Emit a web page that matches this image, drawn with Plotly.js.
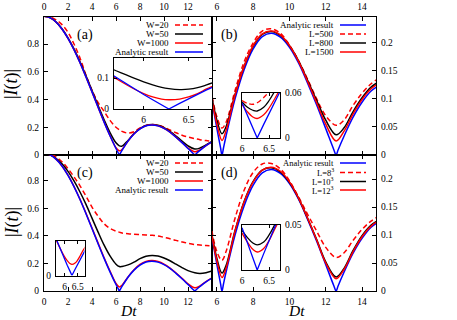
<!DOCTYPE html>
<html>
<head>
<meta charset="utf-8">
<script src="https://cdn.plot.ly/plotly-3.0.1.min.js"></script>
<style>
  html, body { margin: 0; padding: 0; background: #fff; }
  #chart { width: 457px; height: 320px; }
</style>
</head>
<body>
<div id="chart"></div>
<script>
// time grids
const tMain = [0,0.5,1,1.5,2,2.5,3,3.5,4,4.5,5,5.5,6,6.28,6.5,7,7.5,8,8.5,9,9.5,10,10.5,11,11.5,12,12.57,13,13.5,14];
const tZoom = [5.5,6,6.28,6.5,7,7.5,8,8.5,9,9.5,10,10.5,11,11.5,12,12.57,13,13.5,14,14.5,15];
const tExact = [0,0.5,1,1.5,2,2.5,3,3.5,4,4.5,5,5.5,6,6.2,6.28,6.36,6.5,7,7.5,8,8.5,9,9.5,10,10.5,11,11.5,12,12.45,12.57,12.68,13,13.5,14,14.5,15];
const tInsetA = [5.6,5.7,5.8,5.9,6,6.1,6.2,6.28,6.4,6.5,6.6,6.7,6.8];
const tInsetB = [6,6.1,6.2,6.28,6.4,6.5,6.6,6.7];

// analytic result
const exact = [1,0.990,0.959,0.909,0.841,0.759,0.665,0.562,0.455,0.346,0.239,0.139,0.047,0.013,0,0.012,0.033,0.100,0.152,0.189,0.211,0.217,0.210,0.192,0.164,0.128,0.089,0.047,0.009,0,0.009,0.033,0.067,0.094,0.114,0.125];
const exactInsetA = [0.1196,0.1009,0.0825,0.0645,0.047,0.030,0.0134,0,0.0182,0.0333,0.0478,0.0618,0.0751];
const exactInsetB = [0.047,0.030,0.0134,0,0.0182,0.0333,0.0478,0.0618];

// panel (a)
const aW20 = [1,0.995,0.975,0.94,0.885,0.8,0.7,0.575,0.465,0.38,0.315,0.25,0.2,0.182,0.17,0.158,0.168,0.195,0.213,0.219,0.215,0.2,0.18,0.16,0.143,0.13,0.118,0.11,0.104,0.1];
const aW50 = [1,0.99,0.96,0.91,0.845,0.765,0.672,0.571,0.465,0.358,0.256,0.162,0.088,0.066,0.064,0.105,0.155,0.191,0.213,0.22,0.214,0.197,0.17,0.137,0.1,0.066,0.043,0.05,0.073,0.098];
const aW1000 = [1,0.99,0.959,0.909,0.841,0.759,0.665,0.562,0.455,0.346,0.24,0.14,0.052,0.03,0.04,0.1,0.153,0.19,0.212,0.218,0.211,0.193,0.165,0.129,0.09,0.05,0.024,0.037,0.068,0.095];
const aW50Inset = [0.135,0.123,0.111,0.099,0.088,0.078,0.07,0.066,0.063,0.064,0.069,0.078,0.088];
const aW1000Inset = [0.115,0.097,0.08,0.064,0.05,0.039,0.032,0.03,0.032,0.039,0.05,0.065,0.078];

// panel (b)
const bL500 = [0.146,0.068,0.048,0.058,0.115,0.166,0.2,0.221,0.225,0.217,0.196,0.168,0.135,0.1,0.07,0.053,0.062,0.088,0.11,0.127,0.138];
const bL800 = [0.142,0.062,0.038,0.05,0.108,0.158,0.194,0.215,0.22,0.213,0.195,0.168,0.133,0.097,0.062,0.036,0.048,0.077,0.102,0.121,0.132];
const bL1500 = [0.14,0.055,0.026,0.043,0.107,0.158,0.195,0.216,0.221,0.214,0.195,0.167,0.131,0.093,0.055,0.025,0.042,0.073,0.099,0.118,0.129];
const bL500Inset = [0.05,0.046,0.045,0.047,0.054,0.062,0.072,0.083];
const bL800Inset = [0.048,0.041,0.037,0.036,0.041,0.05,0.062,0.075];
const bL1500Inset = [0.045,0.035,0.028,0.026,0.031,0.04,0.052,0.065];

// panel (c)
const cW20 = [1,0.995,0.975,0.94,0.89,0.83,0.765,0.69,0.61,0.545,0.49,0.455,0.435,0.428,0.422,0.416,0.412,0.41,0.408,0.405,0.4,0.39,0.38,0.368,0.357,0.347,0.338,0.334,0.33,0.327];
const cW50 = [1,0.99,0.965,0.925,0.87,0.8,0.72,0.63,0.53,0.43,0.335,0.255,0.195,0.178,0.178,0.19,0.21,0.235,0.252,0.258,0.254,0.24,0.22,0.195,0.17,0.148,0.132,0.128,0.133,0.145];
const cW1000 = [1,0.99,0.959,0.909,0.842,0.76,0.667,0.565,0.458,0.35,0.244,0.145,0.055,0.03,0.042,0.102,0.155,0.193,0.215,0.221,0.214,0.196,0.167,0.131,0.092,0.052,0.023,0.037,0.069,0.096];
const cW1000Inset = [0.116,0.099,0.083,0.068,0.054,0.043,0.035,0.032,0.036,0.045,0.058,0.072,0.084];

// panel (d)
const dL8 = [0.15,0.07,0.055,0.07,0.13,0.18,0.212,0.227,0.228,0.218,0.197,0.168,0.137,0.107,0.078,0.06,0.068,0.09,0.11,0.125,0.135];
const dL10 = [0.143,0.058,0.032,0.045,0.108,0.16,0.196,0.216,0.22,0.213,0.194,0.166,0.13,0.092,0.052,0.025,0.04,0.072,0.099,0.118,0.128];
const dL12 = [0.142,0.054,0.024,0.04,0.107,0.159,0.195,0.216,0.221,0.214,0.195,0.166,0.13,0.091,0.05,0.022,0.038,0.07,0.097,0.116,0.127];
const dL10Inset = [0.044,0.036,0.03,0.028,0.031,0.039,0.05,0.062];
const dL12Inset = [0.041,0.031,0.023,0.02,0.024,0.033,0.045,0.057];

const legendA = ['W=20', 'W=50', 'W=1000', 'Analytic result'];
const legendB = ['Analytic result', 'L=500', 'L=800', 'L=1500'];
const legendD = ['Analytic result', 'L=8<sup>3</sup>', 'L=10<sup>3</sup>', 'L=12<sup>3</sup>'];

const RED = '#ff0000', BLACK = '#000000', BLUE = '#0000ff';
const DASH = '5px,3px';
const FONT = 'Liberation Serif, Times New Roman, serif';
const W = 457, H = 320;
const px = x => x / W;
const py = y => 1 - y / H;

function line(x, y, xa, ya, color, dash, width, shape) {
  return {
    x: x, y: y, xaxis: xa, yaxis: ya, type: 'scatter', mode: 'lines',
    line: {color: color, width: width || 1.5, dash: dash || 'solid', shape: shape || 'spline', smoothing: 1},
    hoverinfo: 'skip', showlegend: false
  };
}

const traces = [
  // (a)
  line(tMain, aW20, 'x', 'y', RED, DASH),
  line(tMain, aW50, 'x', 'y', BLACK),
  line(tMain, aW1000, 'x', 'y', RED),
  line(tExact, exact, 'x', 'y', BLUE),
  // (b)
  line(tExact, exact, 'x2', 'y2', BLUE),
  line(tZoom, bL500, 'x2', 'y2', RED, DASH),
  line(tZoom, bL800, 'x2', 'y2', BLACK),
  line(tZoom, bL1500, 'x2', 'y2', RED),
  // (c)
  line(tMain, cW20, 'x3', 'y3', RED, DASH),
  line(tMain, cW50, 'x3', 'y3', BLACK),
  line(tMain, cW1000, 'x3', 'y3', RED),
  line(tExact, exact, 'x3', 'y3', BLUE),
  // (d)
  line(tExact, exact, 'x4', 'y4', BLUE),
  line(tZoom, dL8, 'x4', 'y4', RED, DASH),
  line(tZoom, dL10, 'x4', 'y4', BLACK),
  line(tZoom, dL12, 'x4', 'y4', RED),
  // insets
  line(tInsetA, aW50Inset, 'x5', 'y5', BLACK, null, 1.3),
  line(tInsetA, aW1000Inset, 'x5', 'y5', RED, null, 1.3),
  line(tInsetA, exactInsetA, 'x5', 'y5', BLUE, null, 1.3, 'linear'),
  line(tInsetB, bL500Inset, 'x6', 'y6', RED, DASH, 1.3),
  line(tInsetB, bL800Inset, 'x6', 'y6', BLACK, null, 1.3),
  line(tInsetB, bL1500Inset, 'x6', 'y6', RED, null, 1.3),
  line(tInsetB, exactInsetB, 'x6', 'y6', BLUE, null, 1.3, 'linear'),
  line(tInsetA, cW1000Inset, 'x7', 'y7', RED, null, 1.3),
  line(tInsetA, exactInsetA, 'x7', 'y7', BLUE, null, 1.3, 'linear'),
  line(tInsetB, dL10Inset, 'x8', 'y8', BLACK, null, 1.3),
  line(tInsetB, dL12Inset, 'x8', 'y8', RED, null, 1.3),
  line(tInsetB, exactInsetB, 'x8', 'y8', BLUE, null, 1.3, 'linear')
];

function axis(domain, range, tickvals, side, anchor, ticklen) {
  return {
    domain: domain, range: range, tickvals: tickvals, side: side, anchor: anchor,
    ticks: 'inside', ticklen: ticklen || 4, tickwidth: 1, tickcolor: '#000',
    showline: true, linecolor: '#000', linewidth: 1, mirror: 'ticks',
    showgrid: false, zeroline: false, fixedrange: true,
    ticklabelstandoff: 2,
    tickfont: {family: FONT, size: 9.5, color: '#000'}
  };
}

const xLeft = [px(44), px(212)], xRight = [px(212), px(376)];
const yTop = [py(155), py(17)], yBot = [py(291), py(155)];

const layout = {
  width: W, height: H,
  margin: {l: 0, r: 0, t: 0, b: 0},
  paper_bgcolor: '#fff', plot_bgcolor: '#fff',
  showlegend: false,
  font: {family: FONT, color: '#000'},
  xaxis: axis(xLeft, [0, 14], [0, 2, 4, 6, 8, 10, 12], 'top', 'y'),
  yaxis: axis(yTop, [0, 0.995], [0, 0.2, 0.4, 0.6, 0.8], 'left', 'x'),
  xaxis2: axis(xRight, [5.73, 14.77], [6, 8, 10, 12, 14], 'top', 'y2'),
  yaxis2: axis(yTop, [0, 0.246], [0, 0.05, 0.1, 0.15, 0.2], 'right', 'x2'),
  xaxis3: axis(xLeft, [0, 14], [0, 2, 4, 6, 8, 10, 12], 'bottom', 'y3'),
  yaxis3: axis(yBot, [0, 0.989], [0, 0.2, 0.4, 0.6, 0.8], 'left', 'x3'),
  xaxis4: axis(xRight, [5.73, 14.77], [6, 8, 10, 12, 14], 'bottom', 'y4'),
  yaxis4: axis(yBot, [0, 0.243], [0, 0.05, 0.1, 0.15, 0.2], 'right', 'x4'),
  xaxis5: axis([px(114), px(212)], [5.67, 6.76], [6, 6.5], 'bottom', 'y5', 3),
  yaxis5: axis([py(109), py(58)], [0, 0.165], [0, 0.1], 'left', 'x5', 3),
  xaxis6: axis([px(242), px(280)], [6, 6.7], [6, 6.5], 'bottom', 'y6', 3),
  yaxis6: axis([py(138), py(93)], [0, 0.06], [0, 0.06], 'right', 'x6', 3),
  xaxis7: axis([px(56), px(84.5)], [5.67, 6.76], [6, 6.5], 'bottom', 'y7', 3),
  yaxis7: axis([py(275.5), py(241)], [0, 0.1], [0], 'left', 'x7', 3),
  xaxis8: axis([px(242), px(280)], [6, 6.7], [6, 6.5], 'bottom', 'y8', 3),
  yaxis8: axis([py(270), py(225)], [0, 0.05], [0, 0.05], 'right', 'x8', 3),
  annotations: [],
  shapes: []
};

function text(x, y, t, size, anchor, angle, vanchor) {
  layout.annotations.push({
    xref: 'paper', yref: 'paper', x: px(x), y: py(y), text: t, showarrow: false,
    xanchor: anchor || 'center', yanchor: vanchor || 'middle', textangle: angle || 0,
    borderpad: 0,
    font: {family: FONT, size: size, color: '#000'}
  });
}

function legend(labels, styles, xText, x0, x1, rows, size) {
  labels.forEach((lab, i) => {
    text(xText, rows[i], lab, size || 9, 'right');
    layout.shapes.push({
      type: 'line', xref: 'paper', yref: 'paper',
      x0: px(x0), x1: px(x1), y0: py(rows[i]), y1: py(rows[i]),
      line: {color: styles[i][0], width: 1.5, dash: styles[i][1] || 'solid'}
    });
  });
}

legend(legendA, [[RED, DASH], [BLACK], [RED], [BLUE]], 170, 175, 203, [25, 34, 43, 52]);
legend(legendB, [[BLUE], [RED, DASH], [BLACK], [RED]], 335, 340, 366, [25, 34, 43, 52]);
legend(legendA, [[RED, DASH], [BLACK], [RED], [BLUE]], 170, 175, 203, [163, 172, 181, 190]);
legend(legendD, [[BLUE], [RED, DASH], [BLACK], [RED]], 335, 340, 366, [163, 172.5, 181.5, 190], 8.5);

text(85, 35, '(a)', 14);
text(230, 35, '(b)', 14);
text(85, 173, '(c)', 14);
text(230, 173, '(d)', 14);
text(12, 84, '|<i>I</i>(<i>t</i>)|', 18, 'center', -90);
text(12, 222, '|<i>I</i>(<i>t</i>)|', 18, 'center', -90);
text(128, 320, '<i>Dt</i>', 15.5, 'center', 0, 'bottom');
text(296, 320, '<i>Dt</i>', 15.5, 'center', 0, 'bottom');

Plotly.newPlot('chart', traces, layout, {staticPlot: true, displayModeBar: false});
</script>
</body>
</html>
